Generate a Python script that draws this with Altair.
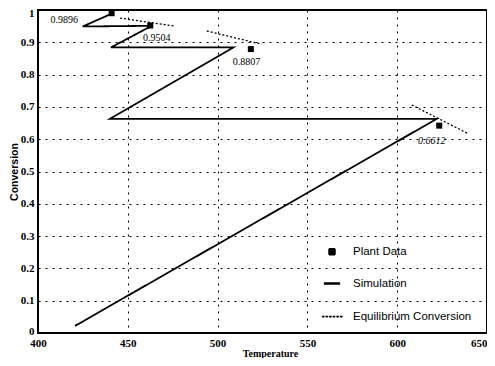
import altair as alt
import pandas as pd

series_names = ["Plant Data", "Simulation", "Equilibrium Conversion"]

# Simulation path (drawn in order)
sim_T = [420.6, 622.0, 440.1, 508.7, 440.6, 463.3, 424.9, 441.6]
sim_X = [0.022, 0.663, 0.663, 0.884, 0.884, 0.951, 0.949, 0.990]

# Plant data
plant_T = [441.0, 462.5, 518.5, 623.4]
plant_X = [0.990, 0.952, 0.879, 0.642]

# Equilibrium conversion segments
eq_seg = [1, 1, 2, 2, 3, 3]
eq_T = [445.7, 476.3, 494.0, 524.5, 608.1, 639.6]
eq_X = [0.975, 0.950, 0.935, 0.894, 0.706, 0.617]

# Value annotations
lbl_text = ["0.9896", "0.9504", "0.8807", "0.6612"]
lbl_T = [422.3, 458.5, 508.4, 611.6]
lbl_X = [0.968, 0.912, 0.840, 0.594]

x_ticks = [400, 450, 500, 550, 600, 650]
y_ticks = [0, 0.1, 0.2, 0.3, 0.4, 0.5, 0.6, 0.7, 0.8, 0.9, 1.0]

sim_df = pd.DataFrame({"T": sim_T, "X": sim_X, "idx": list(range(len(sim_T))),
                       "series": "Simulation"})
plant_df = pd.DataFrame({"T": plant_T, "X": plant_X, "series": "Plant Data"})
eq_df = pd.DataFrame({"T": eq_T, "X": eq_X, "seg": eq_seg,
                      "series": "Equilibrium Conversion"})
lbl_df = pd.DataFrame({"T": lbl_T, "X": lbl_X, "text": lbl_text})

W, H = 449, 323

xs = alt.Scale(domain=[400, 650], nice=False, zero=False)
ys = alt.Scale(domain=[0, 1], nice=False, zero=False)

x_axis = alt.Axis(
    values=x_ticks, title="Temperature", format="d", labelFlush=False,
    titleX=232, titleY=20, titleBaseline="middle", titleAlign="center",
    titleFont="Liberation Serif", titleFontSize=10, titleFontWeight="bold",
    labelPadding=4,
    labelAlign={"condition": {"test": "datum.value == 650", "value": "right"},
                "value": "center"})
y_axis = alt.Axis(
    values=y_ticks, title="Conversion", format="~g", labelFlush=False,
    titleX=-24, titleY=H / 2, titleBaseline="middle", titleAlign="center",
    titleFont="Liberation Sans", titleFontSize=10.5, titleFontWeight="bold",
    labelPadding=4,
    labelOffset={"condition": [{"test": "datum.value == 1", "value": 3},
                               {"test": "datum.value == 0", "value": -2}],
                 "value": 0})


def xe():
    return alt.X("T:Q", scale=xs, axis=x_axis)


def ye():
    return alt.Y("X:Q", scale=ys, axis=y_axis)


legend = alt.Legend(title=None, orient="none", legendX=283, legendY=236,
                    labelOffset=10, rowPadding=17, padding=0,
                    labelFont="Liberation Sans", labelFontSize=11.5,
                    labelColor="black", symbolFillColor="black")

# legend glyphs: filled square, filled thin bar (solid line), row of small squares (dotted line)
bar_path = "M-1,-0.075H1V0.075H-1Z"
dot_path = " ".join(
    "M{:.2f},-0.06h0.12v0.12h-0.12Z".format(-0.94 + 0.36 * i) for i in range(6))

dash_enc = alt.StrokeDash("series:N", scale=alt.Scale(
    domain=series_names, range=[[1, 0], [1, 0], [2, 2]]), legend=legend)
shape_enc = alt.Shape("series:N", scale=alt.Scale(
    domain=series_names, range=["square", bar_path, dot_path]), legend=legend)
size_enc = alt.Size("series:N", scale=alt.Scale(
    domain=series_names, range=[36, 400, 400]), legend=legend)

sim = alt.Chart(sim_df).mark_line(color="black", strokeWidth=1.8).encode(
    x=xe(), y=ye(), order="idx:Q", strokeDash=dash_enc)

eq = alt.Chart(eq_df).mark_line(color="black", strokeWidth=1.3).encode(
    x=xe(), y=ye(), detail="seg:N", strokeDash=dash_enc)

plant = alt.Chart(plant_df).mark_point(filled=True, color="black", opacity=1).encode(
    x=xe(), y=ye(), shape=shape_enc, size=size_enc)

lbl_right = alt.Chart(lbl_df.iloc[[0]]).mark_text(
    align="right", baseline="middle", font="Liberation Serif", fontSize=10,
    color="black").encode(x=xe(), y=ye(), text="text:N")
lbl_left = alt.Chart(lbl_df.iloc[[1, 2]]).mark_text(
    align="left", baseline="middle", font="Liberation Serif", fontSize=10,
    color="black").encode(x=xe(), y=ye(), text="text:N")
lbl_it = alt.Chart(lbl_df.iloc[[3]]).mark_text(
    align="left", baseline="middle", font="Liberation Serif", fontSize=10,
    fontStyle="italic", color="black").encode(x=xe(), y=ye(), text="text:N")

chart = alt.layer(sim, eq, plant, lbl_right, lbl_left, lbl_it).properties(
    width=W, height=H,
    autosize=alt.AutoSizeParams(type="none"),
    padding={"left": 30, "top": 2, "right": 0, "bottom": 25},
).configure_view(stroke="black", strokeWidth=2).configure_axis(
    domain=False, ticks=False, grid=True, gridColor="black", gridDash=[2, 5],
    gridWidth=1, gridOpacity=1, labelFont="Liberation Serif", labelFontSize=11,
    labelFontWeight="bold", labelColor="black", titleColor="black"
)

chart.save("out.html", embed_options={"renderer": "svg", "actions": False})
